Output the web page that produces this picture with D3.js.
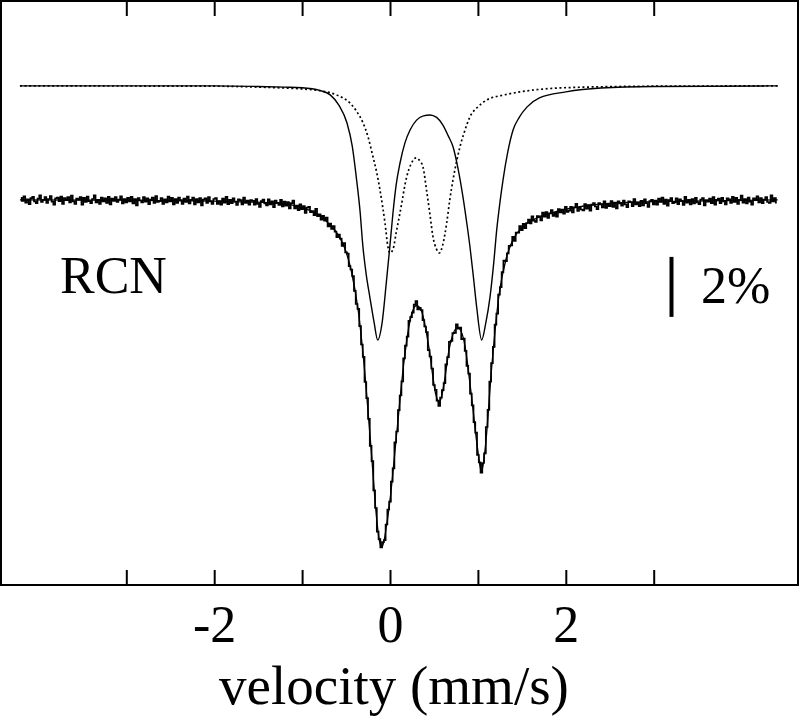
<!DOCTYPE html>
<html><head><meta charset="utf-8">
<script src="https://cdn.jsdelivr.net/npm/d3@7"></script>
<style>body{margin:0;background:#fff}svg{display:block}</style>
</head><body><svg id="c" width="800" height="724"></svg>
<script>
// ---- data (velocity in mm/s, relative transmission in %) ----
const xTickValues = [-3, -2, -1, 0, 1, 2, 3];
const xTickLabels = ["-2", "0", "2"];
const axisTitle = "velocity (mm/s)";
const sampleLabel = "RCN";
const scaleBarLabel = "2%";
const scaleBarRange = [96.07, 98.07];
const channelStart = -4.20, channelStep = 0.02;
const measured = [
100.04,99.94,100.09,99.88,99.99,99.83,100.03,100.07,99.92,99.86,100.01,100.12,99.90,99.97,100.06,99.87,100.00,100.10,99.91,99.81,100.02,100.05,99.93,100.08,99.84,100.03,99.96,100.06,99.89,100.11,
99.92,99.84,100.01,99.98,100.06,99.81,100.04,99.90,100.08,99.93,
99.86,100.00,100.12,99.89,99.97,99.84,100.05,99.92,100.02,99.87,100.07,99.82,100.01,99.94,100.06,99.90,99.98,100.09,99.85,100.00,99.89,
100.04,99.92,100.07,99.85,100.00,99.79,100.03,99.95,99.89,100.06,99.91,100.02,99.83,99.98,100.05,99.87,100.10,99.90,99.93,
100.03,99.84,99.99,99.89,100.08,99.92,100.04,99.82,100.00,99.87,100.05,
99.96,99.84,100.01,99.90,100.08,99.85,99.97,100.05,99.82,100.00,99.89,100.03,99.79,99.98,100.02,99.87,100.06,99.92,99.84,100.00,
100.03,99.84,99.93,99.81,100.01,99.88,100.07,99.83,99.97,99.86,100.02,99.91,99.80,99.99,99.96,99.82,100.05,99.87,99.95,99.81,
99.96,99.94,99.81,100.00,99.84,99.74,99.93,99.98,99.85,99.79,99.99,99.82,99.92,99.73,99.95,
99.87,99.80,99.97,99.75,99.91,
99.78,99.90,99.69,99.86,99.95,
99.69,99.78,99.63,99.82,99.66,
99.76,99.54,99.71,99.74,99.56,99.60,99.46,99.67,99.43,99.49,99.31,99.44,99.28,99.38,99.09,99.18,99.00,99.10,98.91,98.73,
98.81,98.68,98.44,98.53,98.22,98.18,97.76,97.65,97.43,96.94,96.50,96.34,95.76,95.15,94.74,93.90,93.36,92.67,91.77,91.26,
90.29,89.70,88.91,88.66,88.39,88.56,88.63,89.15,89.65,89.91,90.58,91.02,91.89,92.25,92.96,93.45,93.92,94.69,95.11,95.41,
95.94,96.06,96.21,96.48,96.60,96.32,96.37,96.30,95.96,95.75,95.56,94.96,94.75,94.35,93.80,93.64,93.28,93.10,93.38,93.63,
93.86,94.49,94.73,95.24,95.27,95.53,95.54,95.82,95.68,95.71,95.33,95.35,94.94,94.44,94.18,93.51,93.12,92.56,92.21,91.47,
91.22,90.88,91.20,91.52,92.40,92.97,93.91,94.53,95.07,95.81,96.18,96.81,97.06,97.56,97.95,97.93,98.19,98.44,98.45,98.74,
98.60,98.88,98.88,99.10,98.96,99.17,99.03,99.20,99.31,99.19,99.42,99.28,99.24,99.43,99.42,99.29,99.55,99.41,99.56,
99.37,99.52,99.63,99.44,99.54,99.41,99.66,99.55,99.65,99.51,99.74,99.57,99.61,99.74,99.55,99.72,99.84,99.60,99.71,99.65,
99.62,99.83,99.68,99.80,99.61,99.81,99.86,99.75,99.66,99.86,99.82,99.72,99.92,99.70,99.83,99.76,99.93,99.74,99.88,99.69,
99.92,99.85,99.78,99.95,99.82,99.73,99.92,99.90,99.76,100.00,99.82,99.88,99.76,99.94,99.79,99.99,99.86,99.74,99.93,99.97,
99.82,
99.95,99.81,100.01,99.90,100.05,99.84,99.98,99.78,99.96,100.03,99.86,99.89,100.02,99.83,99.99,99.94,99.80,100.07,99.88,99.97,
99.82,100.00,99.85,100.04,99.89,99.83,99.98,100.03,99.79,99.96,99.91,100.01,99.86,100.06,99.81,
99.97,100.01,99.86,100.04,99.92,99.82,100.02,99.99,99.87,100.07,99.90,100.04,99.84,99.97,100.11,99.88,100.00,99.85,100.05,99.91,
99.81,100.02,99.96,100.09,99.89,100.03,99.86,99.98,100.06,99.90,99.87,100.12,99.92,100.03,99.88
];
const fitCurve = [
[-4.21,99.97],[-3.0,99.96],[-2.4,99.94],[-2.0,99.93],[-1.6,99.9],[-1.3,99.86],[-1.1,99.79],[-0.92,99.63],[-0.8,99.45],
[-0.68,99.13],[-0.6,98.85],[-0.52,98.4],[-0.44,97.6],[-0.36,96.25],[-0.28,94.0],[-0.2,91.1],[-0.16,89.6],[-0.12,88.6],
[-0.09,88.4],[-0.04,89.1],[0.0,89.97],[0.08,92.3],[0.16,94.6],[0.24,96.1],[0.30,96.45],[0.36,96.25],[0.44,95.1],
[0.52,93.5],[0.56,93.2],[0.60,93.6],[0.68,95.1],[0.77,95.72],[0.84,95.3],[0.92,93.6],[1.00,91.6],[1.04,90.9],[1.08,91.6],
[1.16,94.5],[1.24,96.8],[1.32,98.0],[1.40,98.65],[1.52,99.1],[1.64,99.32],[1.80,99.5],[2.0,99.66],[2.3,99.8],[2.7,99.89],
[3.4,99.93],[4.41,99.97]
];
const componentSolid = [
[-4.21,100],[-2.0,100],[-1.5,99.98],[-1.2,99.96],[-1.0,99.94],[-0.8,99.85],[-0.68,99.7],[-0.58,99.35],[-0.49,98.77],
[-0.43,98.0],[-0.38,96.87],[-0.34,95.8],[-0.31,94.7],[-0.27,93.7],[-0.23,92.97],[-0.18,92.1],[-0.14,91.53],[-0.09,92.1],
[-0.04,93.5],[0.0,94.7],[0.034,95.77],[0.07,96.7],[0.114,97.43],[0.17,98.1],[0.228,98.53],[0.30,98.85],[0.38,99.0],
[0.455,99.03],[0.53,98.95],[0.60,98.7],[0.66,98.35],[0.717,97.97],[0.77,97.3],[0.83,96.3],[0.87,95.5],[0.91,94.63],
[0.95,93.6],[0.986,92.63],[1.043,91.53],[1.09,92.1],[1.138,92.97],[1.18,94.1],[1.214,95.2],[1.25,96.1],[1.286,96.87],
[1.34,97.8],[1.40,98.53],[1.47,98.95],[1.56,99.3],[1.70,99.6],[2.0,99.8],[2.4,99.93],[3.0,99.98],[4.41,100]
];
const componentDotted = [
[-4.21,100],[-2.0,99.99],[-1.5,99.96],[-1.2,99.93],[-1.0,99.9],[-0.8,99.84],[-0.68,99.77],[-0.55,99.62],[-0.455,99.43],
[-0.38,99.15],[-0.307,98.77],[-0.25,98.3],[-0.193,97.63],[-0.15,97.1],[-0.114,96.53],[-0.085,96.0],[-0.057,95.43],
[-0.023,94.63],[0.0,94.43],[0.034,94.55],[0.07,95.1],[0.114,95.77],[0.19,96.97],[0.24,97.4],[0.296,97.6],[0.34,97.5],
[0.375,97.3],[0.417,96.5],[0.455,95.7],[0.489,94.97],[0.53,94.55],[0.562,94.43],[0.60,94.7],[0.645,95.43],[0.68,96.2],
[0.717,96.87],[0.796,97.97],[0.85,98.5],[0.91,98.97],[1.0,99.3],[1.10,99.53],[1.3,99.7],[1.48,99.8],[2.0,99.94],
[3.0,99.99],[4.41,100]
];
const componentOffset = 3.77;

// ---- layout ----
const plot = {left: 1, right: 798, top: 1, bottom: 585};
const x = d3.scaleLinear().domain([-4.4255, 4.6416]).range([plot.left, plot.right]);
const y = d3.scaleLinear().domain([87.133, 106.6]).range([plot.bottom, plot.top]);
const svg = d3.select("#c");
const serif = "'Liberation Serif','Times New Roman',serif";

const lineGen = d3.line().x(d => x(d[0])).y(d => y(d[1])).curve(d3.curveMonotoneX);
const lineOff = d3.line().x(d => x(d[0])).y(d => y(d[1] + componentOffset)).curve(d3.curveMonotoneX);

// components
svg.append("path").datum(componentDotted).attr("d", lineOff)
  .attr("fill", "none").attr("stroke", "#000").attr("stroke-width", 1.7)
  .attr("stroke-dasharray", "2,2.6");
svg.append("path").datum(componentSolid).attr("d", lineOff)
  .attr("fill", "none").attr("stroke", "#000").attr("stroke-width", 1.4);

// measured data (step histogram)
const measuredPts = measured.map((t, i) => [channelStart + i * channelStep, t]);
svg.append("path").datum(measuredPts)
  .attr("d", d3.line().x(d => x(d[0])).y(d => y(d[1])).curve(d3.curveStep))
  .attr("fill", "none").attr("stroke", "#000").attr("stroke-width", 1.7);

// fit
svg.append("path").datum(fitCurve).attr("d", lineGen)
  .attr("fill", "none").attr("stroke", "#000").attr("stroke-width", 1.3);

// axes (ticks inside the frame)
const bottomAxis = d3.axisBottom(x).tickValues(xTickValues).tickSize(-15).tickPadding(20)
  .tickFormat(d => xTickLabels.includes(String(d)) ? String(d) : "");
const gb = svg.append("g").attr("transform", `translate(0,${plot.bottom})`).call(bottomAxis);
gb.select(".domain").remove();
gb.selectAll(".tick line").attr("stroke", "#000").attr("stroke-width", 2);
gb.selectAll(".tick text").attr("font-family", serif).attr("font-size", 52).attr("fill", "#000");

const topAxis = d3.axisTop(x).tickValues(xTickValues).tickSize(-15).tickFormat("");
const gt = svg.append("g").attr("transform", `translate(0,${plot.top})`).call(topAxis);
gt.select(".domain").remove();
gt.selectAll(".tick line").attr("stroke", "#000").attr("stroke-width", 2);

// frame
svg.append("rect").attr("x", plot.left).attr("y", plot.top)
  .attr("width", plot.right - plot.left).attr("height", plot.bottom - plot.top)
  .attr("fill", "none").attr("stroke", "#000").attr("stroke-width", 2);

// axis title
svg.append("text").attr("x", (x(-2) + x(2)) / 2 + 4).attr("y", 704)
  .attr("text-anchor", "middle").attr("font-family", serif).attr("font-size", 55)
  .text(axisTitle);

// sample label
svg.append("text").attr("x", 60).attr("y", 293).attr("font-family", serif).attr("font-size", 52)
  .text(sampleLabel);

// scale bar
svg.append("line").attr("x1", 671.5).attr("x2", 671.5)
  .attr("y1", y(scaleBarRange[1])).attr("y2", y(scaleBarRange[0]))
  .attr("stroke", "#000").attr("stroke-width", 4);
svg.append("text").attr("x", 701).attr("y", 303).attr("font-family", serif).attr("font-size", 52)
  .text(scaleBarLabel);
</script></body></html>
